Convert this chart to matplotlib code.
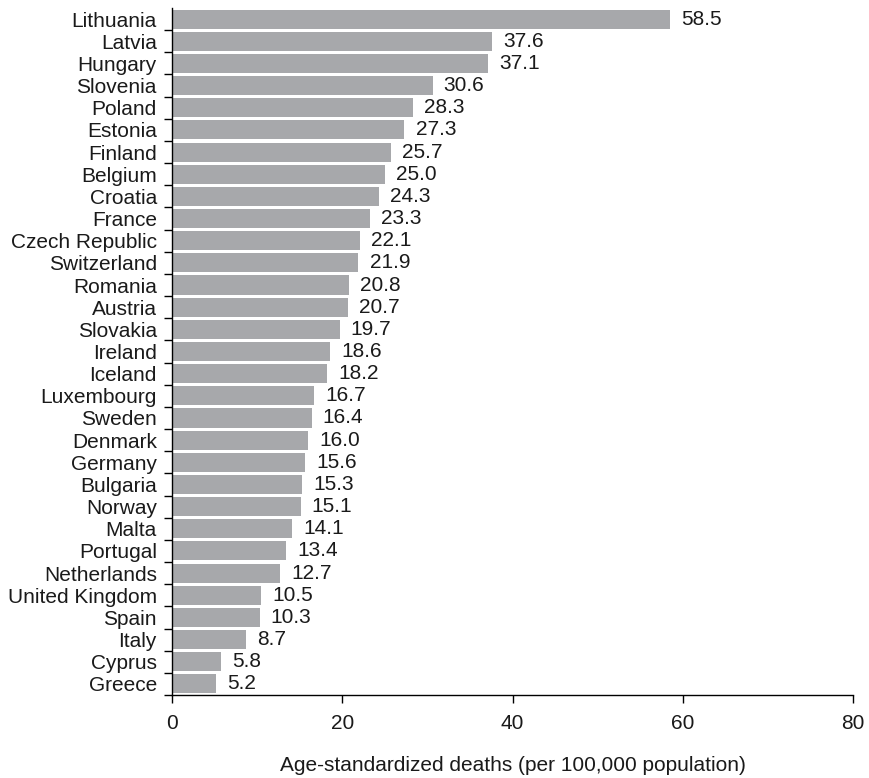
import numpy as np
import matplotlib.pyplot as plt
from matplotlib.ticker import FixedLocator

countries = ['Lithuania', 'Latvia', 'Hungary', 'Slovenia', 'Poland', 'Estonia',
             'Finland', 'Belgium', 'Croatia', 'France', 'Czech Republic',
             'Switzerland', 'Romania', 'Austria', 'Slovakia', 'Ireland', 'Iceland',
             'Luxembourg', 'Sweden', 'Denmark', 'Germany', 'Bulgaria', 'Norway',
             'Malta', 'Portugal', 'Netherlands', 'United Kingdom', 'Spain', 'Italy',
             'Cyprus', 'Greece']
deaths = [58.5, 37.6, 37.1, 30.6, 28.3, 27.3, 25.7, 25.0, 24.3, 23.3, 22.1,
          21.9, 20.8, 20.7, 19.7, 18.6, 18.2, 16.7, 16.4, 16.0, 15.6, 15.3, 15.1,
          14.1, 13.4, 12.7, 10.5, 10.3, 8.7, 5.8, 5.2]
xticks = [0, 20, 40, 60, 80]

plt.rcParams['font.family'] = ['Liberation Sans', 'DejaVu Sans']
fs = 15

fig = plt.figure(figsize=(8.69, 7.78), dpi=100)
ax = fig.add_axes([0.198, 0.1067, 0.7836, 0.883])

y = np.arange(len(countries))
bars = ax.barh(y, deaths, height=0.86, color='#a7a8ab', zorder=2)
for b, v in zip(bars, deaths):
    ax.text(b.get_width() + 1.3, b.get_y() + b.get_height() / 2, f'{v:.1f}',
            va='center', ha='left', fontsize=fs, color='#1a1a1a')

ax.set_ylim(len(countries) - 0.5, -0.5)
ax.set_xlim(0, 80)
ax.set_yticks(y)
ax.set_yticklabels(countries, fontsize=fs, color='#1a1a1a')
ax.yaxis.set_minor_locator(FixedLocator(np.arange(len(countries)) + 0.5))
ax.tick_params(axis='y', which='major', length=0, pad=11)
ax.tick_params(axis='y', which='minor', length=6, width=1, direction='out')

ax.set_xticks(xticks)
ax.tick_params(axis='x', labelsize=fs, length=6, width=1, pad=7.5,
               labelcolor='#1a1a1a')
ax.set_xlabel('Age-standardized deaths (per 100,000 population)', fontsize=fs,
              labelpad=17, color='#1a1a1a')

for s in ['top', 'right']:
    ax.spines[s].set_visible(False)
ax.spines['left'].set_linewidth(1)
ax.spines['bottom'].set_linewidth(1)

fig.savefig('out.png', dpi=100)
